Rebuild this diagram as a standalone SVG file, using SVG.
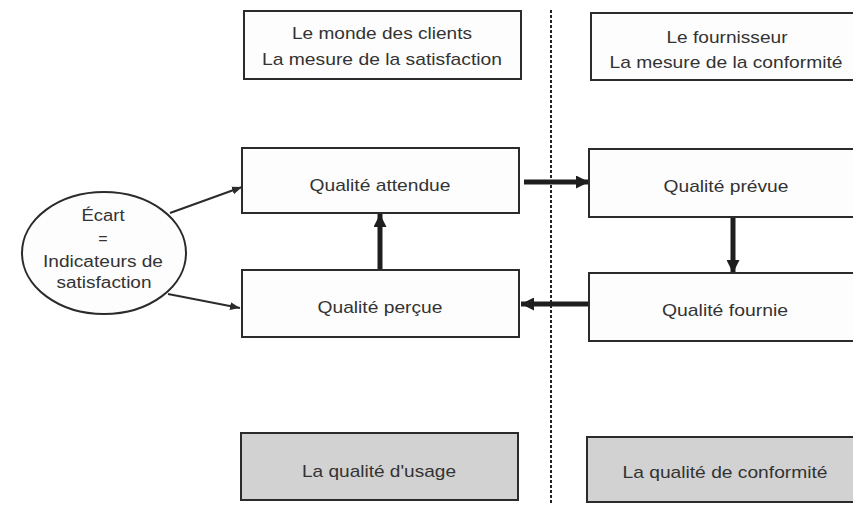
<svg xmlns="http://www.w3.org/2000/svg" width="853" height="524" viewBox="0 0 853 524">
<defs>
<style>
.box{fill:#fdfdfd;stroke:#2b2b2b;stroke-width:2}
.gray{fill:#d2d2d2;stroke:#2b2b2b;stroke-width:2}
.t{font-family:"Liberation Sans",Arial,sans-serif;font-size:17px;fill:#333;text-anchor:middle}
.e{font-family:"Liberation Sans",Arial,sans-serif;font-size:16px;fill:#333;text-anchor:middle}
.thin{stroke:#2b2b2b;stroke-width:2;fill:none}
.thick{stroke:#1e1e1e;stroke-width:5;fill:none}
.dash{stroke:#222;stroke-width:2;stroke-dasharray:3 2;fill:none}
</style>
<marker id="ah" viewBox="0 0 10 10" refX="10" refY="5" markerWidth="5" markerHeight="5" orient="auto" markerUnits="strokeWidth">
<path d="M0,1 L10,5 L0,9 z" fill="#2b2b2b"/>
</marker>
<marker id="ahT" viewBox="0 0 10 10" refX="10" refY="5" markerWidth="2.6" markerHeight="2.6" orient="auto" markerUnits="strokeWidth">
<path d="M0,0 L10,5 L0,10 z" fill="#1e1e1e"/>
</marker>
</defs>
<rect width="853" height="524" fill="#ffffff"/>

<g id="connectors">
<line class="dash" x1="551" y1="10" x2="551" y2="505"/>
<line class="thin" x1="170" y1="213" x2="242" y2="187" marker-end="url(#ah)"/>
<line class="thin" x1="168" y1="294" x2="240" y2="308" marker-end="url(#ah)"/>
<line class="thick" x1="524" y1="182" x2="589" y2="182" marker-end="url(#ahT)"/>
<line class="thick" x1="589" y1="304" x2="521" y2="304" marker-end="url(#ahT)"/>
<line class="thick" x1="380" y1="270" x2="380" y2="214" marker-end="url(#ahT)"/>
<line class="thick" x1="733" y1="217" x2="733" y2="273" marker-end="url(#ahT)"/>
</g>

<g id="header-clients">
<rect class="box" x="244" y="11" width="277" height="68"/>
<text class="t" x="382" y="39" textLength="180" lengthAdjust="spacingAndGlyphs">Le monde des clients</text>
<text class="t" x="382" y="65" textLength="240" lengthAdjust="spacingAndGlyphs">La mesure de la satisfaction</text>
</g>

<g id="header-fournisseur">
<rect class="box" x="591" y="13" width="270" height="67"/>
<text class="t" x="727" y="43" textLength="121" lengthAdjust="spacingAndGlyphs">Le fournisseur</text>
<text class="t" x="726" y="68" textLength="233" lengthAdjust="spacingAndGlyphs">La mesure de la conformité</text>
</g>

<g id="ecart">
<ellipse cx="104" cy="253" rx="82" ry="61" fill="#fdfdfd" stroke="#2b2b2b" stroke-width="2"/>
<text class="e" x="103" y="221" textLength="43" lengthAdjust="spacingAndGlyphs">Écart</text>
<text class="e" x="103" y="244">=</text>
<text class="e" x="103" y="267" textLength="120" lengthAdjust="spacingAndGlyphs">Indicateurs de</text>
<text class="e" x="104" y="288" textLength="95" lengthAdjust="spacingAndGlyphs">satisfaction</text>
</g>

<g id="qualite-attendue">
<rect class="box" x="242" y="148" width="277" height="65"/>
<text class="t" x="380" y="191" textLength="141" lengthAdjust="spacingAndGlyphs">Qualité attendue</text>
</g>

<g id="qualite-percue">
<rect class="box" x="242" y="270" width="277" height="67"/>
<text class="t" x="380" y="313" textLength="125" lengthAdjust="spacingAndGlyphs">Qualité perçue</text>
</g>

<g id="qualite-prevue">
<rect class="box" x="589" y="149" width="272" height="68"/>
<text class="t" x="726" y="192" textLength="125" lengthAdjust="spacingAndGlyphs">Qualité prévue</text>
</g>

<g id="qualite-fournie">
<rect class="box" x="589" y="273" width="272" height="68"/>
<text class="t" x="725" y="316" textLength="126" lengthAdjust="spacingAndGlyphs">Qualité fournie</text>
</g>

<g id="qualite-usage">
<rect class="gray" x="241" y="433" width="277" height="67"/>
<text class="t" x="379" y="477" textLength="154" lengthAdjust="spacingAndGlyphs">La qualité d'usage</text>
</g>

<g id="qualite-conformite">
<rect class="gray" x="587" y="437" width="274" height="65"/>
<text class="t" x="725" y="478" textLength="205" lengthAdjust="spacingAndGlyphs">La qualité de conformité</text>
</g>
</svg>
